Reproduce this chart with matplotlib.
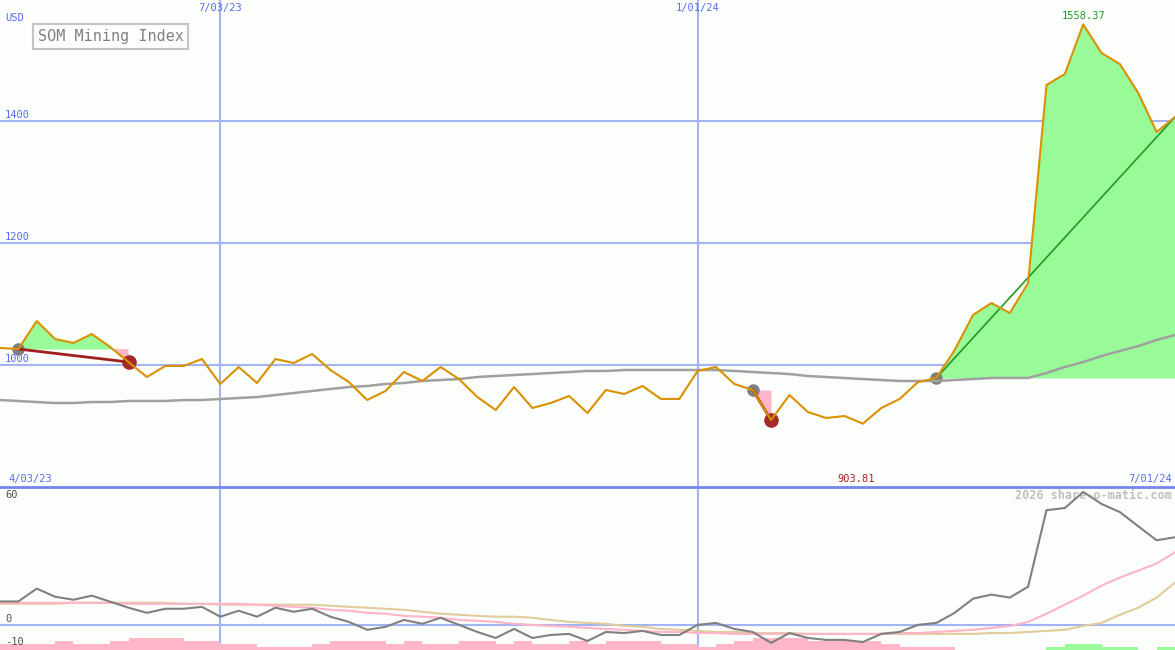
import matplotlib.pyplot as plt
import pandas as pd
from matplotlib.lines import Line2D

# weekly closes, SOM Mining Index
dates = pd.date_range('2023-04-10', periods=65, freq='7D')
price = [1027.9, 1026.2, 1072.1, 1042.6, 1036.1, 1050.8, 1029.5, 1004.9, 980.3, 998.4,
         998.4, 1009.8, 968.9, 996.7, 970.5, 1009.8, 1003.3, 1018.0, 991.8, 972.1,
         942.6, 957.4, 988.5, 973.8, 996.7, 977.0, 947.5, 926.2, 963.9, 929.5,
         937.7, 949.2, 921.3, 959.0, 952.5, 965.6, 944.3, 944.3, 990.2, 996.7,
         968.9, 959.0, 909.8, 950.8, 923.0, 913.1, 916.4, 903.81, 929.5, 944.3,
         972.1, 978.7, 1024.6, 1082.0, 1101.6, 1085.2, 1134.4, 1459.0, 1477.0, 1558.37,
         1511.5, 1493.4, 1445.9, 1382.0, 1406.6]
ma = [942.6, 941.0, 939.3, 937.7, 937.7, 939.3, 939.3, 941.0, 941.0, 941.0,
      942.6, 942.6, 944.3, 945.9, 947.5, 950.8, 954.1, 957.4, 960.7, 963.9,
      965.6, 968.9, 970.5, 973.8, 975.4, 977.0, 980.3, 982.0, 983.6, 985.2,
      986.9, 988.5, 990.2, 990.2, 991.8, 991.8, 991.8, 991.8, 991.8, 991.8,
      990.2, 988.5, 986.9, 985.2, 982.0, 980.3, 978.7, 977.0, 975.4, 973.8,
      973.8, 973.8, 975.4, 977.0, 978.7, 978.7, 978.7, 986.9, 996.7, 1004.9,
      1014.8, 1023.0, 1031.1, 1041.0, 1049.2]

# trend segments: start index, end index, finished?
trends = [(1, 7, True), (41, 42, True), (51, 64, False)]

# lower panel indicators
mom = [10.9, 10.9, 16.9, 13.1, 11.7, 13.6, 10.8, 8.0, 5.6, 7.5,
       7.5, 8.4, 3.8, 6.6, 3.8, 8.0, 6.1, 7.5, 3.8, 1.4,
       -2.3, -0.9, 2.3, 0.5, 3.3, 0.0, -3.3, -6.1, -1.9, -6.1,
       -4.7, -4.2, -7.5, -3.3, -3.8, -2.8, -4.7, -4.7, 0.0, 0.9,
       -1.9, -3.3, -8.4, -3.8, -6.1, -7.0, -7.0, -8.0, -4.2, -3.3,
       0.0, 0.9, 5.6, 12.2, 14.1, 12.7, 17.8, 53.4, 54.4, 61.9,
       56.3, 52.5, 45.9, 39.4, 40.8]
mom_fast = [10.3, 10.3, 10.3, 10.3, 10.3, 10.3, 10.3, 9.8, 9.8, 9.8,
            9.8, 9.8, 9.8, 9.8, 9.4, 8.9, 8.4, 8.0, 7.0, 6.6,
            5.6, 5.2, 4.2, 3.8, 3.3, 2.3, 1.9, 1.4, 0.5, 0.0,
            -0.5, -0.9, -1.4, -1.9, -2.3, -2.8, -3.3, -3.3, -3.8, -3.8,
            -4.2, -4.2, -4.2, -4.2, -4.2, -4.2, -4.2, -4.2, -4.2, -3.8,
            -3.8, -3.3, -2.8, -2.3, -1.4, -0.5, 1.4, 5.2, 9.4, 13.6,
            18.3, 22.0, 25.3, 28.6, 33.8]
mom_slow = [9.8, 9.8, 9.8, 9.8, 10.3, 10.3, 10.3, 10.3, 10.3, 10.3,
            9.8, 9.8, 9.4, 9.4, 9.4, 9.4, 9.4, 9.4, 8.9, 8.4,
            8.0, 7.5, 7.0, 6.1, 5.2, 4.7, 4.2, 3.8, 3.8, 3.3,
            2.3, 1.4, 0.9, 0.5, -0.5, -0.9, -1.9, -2.3, -2.8, -3.3,
            -3.3, -3.8, -3.8, -3.8, -4.2, -4.2, -4.2, -4.2, -4.2, -4.2,
            -4.2, -4.2, -4.2, -4.2, -3.8, -3.8, -3.3, -2.8, -2.3, -0.5,
            0.9, 4.7, 8.0, 12.7, 19.7]
hist = [-2, -2, -2, -3, -2, -2, -3, -4, -4, -4,
        -3, -3, -2, -2, -1, -1, -1, -2, -3, -3,
        -3, -2, -3, -2, -2, -3, -3, -2, -3, -2,
        -2, -3, -2, -3, -3, -3, -2, -2, -1, -2,
        -3, -4, -4, -4, -3, -3, -3, -3, -2, -1,
        -1, -1, 0, 0, 0, 0, 0, 1, 2, 2,
        1, 1, 0, 1, 0]

price_ticks = [1000, 1200, 1400]
mom_ticks = [60, 0, -10]
vlines = [pd.Timestamp('2023-07-03'), pd.Timestamp('2024-01-01')]
top_labels = ['7/03/23', '1/01/24']

BG = '#fbfefb'
GRID = '#a3b3f3'
BLUE = '#5a6cf0'
ORANGE = '#d99100'
plt.rcParams['font.family'] = ['DejaVu Sans Mono']

fig = plt.figure(figsize=(11.75, 6.5), dpi=100, facecolor=BG)
ax = fig.add_axes([0, 163 / 650, 1, 487 / 650])
ax2 = fig.add_axes([0, 0, 1, 163 / 650])
for a in (ax, ax2):
    a.set_facecolor(BG)
    a.set_xticks([])
    a.set_yticks([])
    for s in a.spines.values():
        s.set_visible(False)
    a.set_xlim(dates[0], dates[-1])
    for d in vlines:
        a.axvline(d, color=GRID, lw=1.5, zorder=1)

ax.set_ylim(800, 1598.4)
ax2.set_ylim(-11.7, 64.2)

# main panel
for v in price_ticks:
    ax.axhline(v, color=GRID, lw=1.5, zorder=1)
    ax.annotate(str(v), xy=(0, v), xycoords=('axes fraction', 'data'), xytext=(3.6, 1),
                textcoords='offset points', va='bottom', ha='left', color=BLUE, fontsize=7.5)

for s, e, done in trends:
    xs = dates[s:e + 1]
    ys = price[s:e + 1]
    lvl = price[s]
    ax.fill_between(xs, ys, lvl, where=[y >= lvl for y in ys], interpolate=True,
                    color='#98fb98', lw=0, zorder=2)
    ax.fill_between(xs, ys, lvl, where=[y <= lvl for y in ys], interpolate=True,
                    color='#ffb6c8', lw=0, zorder=2)
    up = price[e] > price[s]
    ax.plot([dates[s], dates[e]], [price[s], price[e]], color='#229922' if up else '#a02020',
            lw=1.2 if up else 2, zorder=4)
    ax.plot(dates[s], price[s], 'o', color='#808080', ms=8, zorder=3)
    if done:
        ax.plot(dates[e], price[e], 'o', color='#a52a2a', ms=9.5, zorder=3)

ax.plot(dates, ma, color='#a0a0a0', lw=1.8, zorder=3)
ax.plot(dates, price, color=ORANGE, lw=1.5, zorder=5)

imax = price.index(max(price))
imin = price.index(min(price))
ax.annotate(f'{price[imax]:.2f}', xy=(dates[imax], price[imax]), xytext=(0, 2.5),
            textcoords='offset points', ha='center', va='bottom', color='#229922', fontsize=7.5)
ax.annotate(f'{price[imin]:.2f}', xy=(dates[imin], 0), xycoords=('data', 'axes fraction'),
            xytext=(-5, 5.8), textcoords='offset points', ha='center', va='center',
            color='#aa2222', fontsize=7.5)

ax.annotate('USD', xy=(0, 1), xycoords='axes fraction', xytext=(3.6, -13),
            textcoords='offset points', va='center', ha='left', color=BLUE, fontsize=7.5)
for d, lab in zip(vlines, top_labels):
    ax.annotate(lab, xy=(d, 1), xycoords=('data', 'axes fraction'), xytext=(0, -5.8),
                textcoords='offset points', va='center', ha='center', color=BLUE, fontsize=7.5)
ax.annotate('4/03/23', xy=(0, 0), xycoords='axes fraction', xytext=(5.8, 5.8),
            textcoords='offset points', va='center', ha='left', color=BLUE, fontsize=7.5)
ax.annotate('7/01/24', xy=(1, 0), xycoords='axes fraction', xytext=(-2.2, 5.8),
            textcoords='offset points', va='center', ha='right', color=BLUE, fontsize=7.5)
ax.annotate('SOM Mining Index', xy=(0, 1), xycoords='axes fraction', xytext=(27, -26.3),
            textcoords='offset points', va='center', ha='left', color='#808080', fontsize=10.9,
            bbox=dict(boxstyle='square,pad=0.3', fc=BG, ec='#c4c4c4', lw=1.5))

# separator between panels
fig.add_artist(Line2D([0, 1], [163 / 650, 163 / 650], transform=fig.transFigure,
                      color='#7585ee', lw=2, zorder=10))

# lower panel
ax2.axhline(0, color=GRID, lw=1.5, zorder=1)
lo = ax2.get_ylim()[0]
ax2.bar(dates, [abs(h) * 1.4 for h in hist], width=7, align='edge', bottom=lo,
        color=['#98fb98' if h > 0 else '#ffb6c8' for h in hist], lw=0, zorder=2)
ax2.plot(dates, mom_slow, color='#e2cc9c', lw=1.5, zorder=3)
ax2.plot(dates, mom_fast, color='#ffb4c8', lw=1.5, zorder=3)
ax2.plot(dates, mom, color='#808080', lw=1.5, zorder=4)

ax2.annotate(str(mom_ticks[0]), xy=(0, 1), xycoords='axes fraction', xytext=(3.6, -5.8),
             textcoords='offset points', va='center', ha='left', color='#505050', fontsize=7.5)
ax2.annotate(str(mom_ticks[1]), xy=(0, mom_ticks[1]), xycoords=('axes fraction', 'data'),
             xytext=(3.6, 4.3), textcoords='offset points', va='center', ha='left',
             color='#505050', fontsize=7.5)
ax2.annotate(str(mom_ticks[2]), xy=(0, mom_ticks[2]), xycoords=('axes fraction', 'data'),
             xytext=(3.6, 3), textcoords='offset points', va='center', ha='left',
             color='#505050', fontsize=7.5)
ax2.annotate('2026 share-o-matic.com', xy=(1, 1), xycoords='axes fraction', xytext=(-2.2, -5.8),
             textcoords='offset points', va='center', ha='right', color='#c0c0c0',
             fontsize=8.5, fontweight='bold')

fig.savefig('out.png', dpi=100, facecolor=BG)
